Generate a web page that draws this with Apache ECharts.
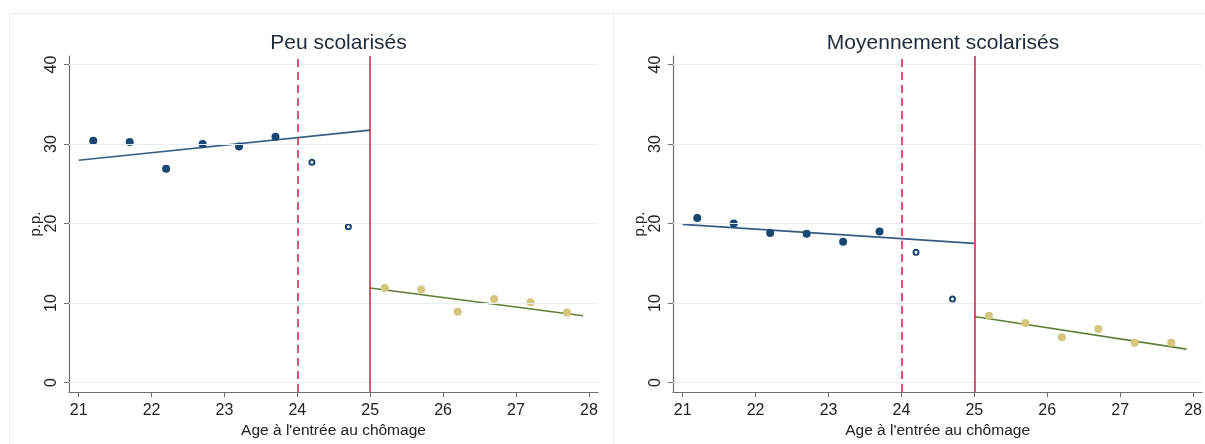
<!DOCTYPE html>
<html>
<head>
<meta charset="utf-8">
<script src="https://cdn.jsdelivr.net/npm/echarts@6/dist/echarts.min.js"></script>
<style>
html,body{margin:0;padding:0;background:#fff;}
#chart{width:1205px;height:444px;}
</style>
</head>
<body>
<div id="chart"></div>
<script>
// ---- data ----
const panelTitles = ['Peu scolarisés', 'Moyennement scolarisés'];
const xTickLabels = [21, 22, 23, 24, 25, 26, 27, 28];
const yTickLabels = [0, 10, 20, 30, 40];
const xAxisName = "Age à l'entrée au chômage";
const yAxisName = 'p.p.';

const ageBefore = [21.2, 21.7, 22.2, 22.7, 23.2, 23.7];
const ageDonut = [24.2, 24.7];
const ageAfter = [25.2, 25.7, 26.2, 26.7, 27.2, 27.7];

const peuBefore = [30.4, 30.25, 26.9, 30.0, 29.7, 30.9];
const peuDonut = [27.7, 19.6];
const peuAfter = [11.9, 11.7, 8.9, 10.5, 10.1, 8.8];
const peuFitBeforeX = [21, 25];
const peuFitBeforeY = [27.95, 31.75];
const peuFitAfterX = [25, 27.92];
const peuFitAfterY = [11.9, 8.4];

const moyBefore = [20.7, 20.0, 18.8, 18.7, 17.7, 19.0];
const moyDonut = [16.4, 10.5];
const moyAfter = [8.4, 7.5, 5.7, 6.75, 5.0, 5.0];
const moyFitBeforeX = [21, 25];
const moyFitBeforeY = [19.9, 17.5];
const moyFitAfterX = [25, 27.91];
const moyFitAfterY = [8.3, 4.2];

const cutoffDashed = 24;
const cutoffSolid = 25;

// ---- build options ----
const FONT = 'Liberation Sans, Arial, sans-serif';
const zip = (xs, ys) => xs.map((x, i) => [x, ys[i]]);

const panels = [
  {before: peuBefore, donut: peuDonut, after: peuAfter,
   fbx: peuFitBeforeX, fby: peuFitBeforeY, fax: peuFitAfterX, fay: peuFitAfterY},
  {before: moyBefore, donut: moyDonut, after: moyAfter,
   fbx: moyFitBeforeX, fby: moyFitBeforeY, fax: moyFitAfterX, fay: moyFitAfterY}
];

const grids = [
  {left: 69, top: 56, width: 529, height: 338},
  {left: 673, top: 56, width: 530, height: 338}
];

const xAxes = grids.map((g, i) => ({
  type: 'value', gridIndex: i, min: 20.867, max: 28.125,
  name: xAxisName, nameLocation: 'middle', nameGap: 24,
  nameTextStyle: {fontFamily: FONT, fontSize: 15.5, color: '#222'},
  axisLine: {onZero: false, lineStyle: {color: '#6e6e6e', width: 1.2}},
  axisTick: {show: true, length: 5, lineStyle: {color: '#6e6e6e'}, customValues: xTickLabels},
  axisLabel: {fontFamily: FONT, fontSize: 16, color: '#222', margin: 10, customValues: xTickLabels},
  splitLine: {show: false}
}));

const yAxes = grids.map((g, i) => ({
  type: 'value', gridIndex: i, min: -1.2, max: 41.07,
  name: yAxisName, nameLocation: 'middle', nameGap: 23,
  nameTextStyle: {fontFamily: FONT, fontSize: 15, color: '#222'},
  axisLine: {show: true, onZero: false, lineStyle: {color: '#6e6e6e', width: 1.2}},
  axisTick: {show: true, length: 5, lineStyle: {color: '#6e6e6e'}, customValues: yTickLabels},
  axisLabel: {fontFamily: FONT, fontSize: 16, color: '#222', rotate: 90, margin: 9,
              customValues: yTickLabels},
  splitLine: {show: false}
}));

const NAVY = '#1a476f';
const SAND = '#d4c67c';
const FITBLUE = '#355e84';
const FITGREEN = '#5e7f35';
const RED = '#d42a52';

const series = [];
panels.forEach((p, i) => {
  // gridlines
  series.push({
    type: 'line', xAxisIndex: i, yAxisIndex: i, data: [], z: 0, silent: true,
    markLine: {silent: true, symbol: 'none', label: {show: false}, animation: false,
      lineStyle: {color: '#e6eef2', width: 1.2, type: 'solid'},
      data: yTickLabels.map(v => ({yAxis: v}))}
  });
  // cutoff lines
  series.push({
    type: 'line', xAxisIndex: i, yAxisIndex: i, data: [], z: 1, silent: true,
    markLine: {silent: true, symbol: 'none', label: {show: false}, animation: false,
      data: [
        {xAxis: cutoffDashed, lineStyle: {color: RED, width: 1.6, type: [8, 5]}},
        {xAxis: cutoffSolid, lineStyle: {color: RED, width: 1.6, type: 'solid'}}
      ]}
  });
  series.push({
    type: 'line', xAxisIndex: i, yAxisIndex: i, z: 2, symbol: 'none', animation: false,
    lineStyle: {color: FITBLUE, width: 1.6}, data: zip(p.fbx, p.fby)
  });
  series.push({
    type: 'line', xAxisIndex: i, yAxisIndex: i, z: 2, symbol: 'none', animation: false,
    lineStyle: {color: FITGREEN, width: 1.6}, data: zip(p.fax, p.fay)
  });
  series.push({
    type: 'scatter', xAxisIndex: i, yAxisIndex: i, z: 3, symbol: 'circle', symbolSize: 8,
    itemStyle: {color: NAVY, opacity: 1}, animation: false, data: zip(ageBefore, p.before)
  });
  series.push({
    type: 'scatter', xAxisIndex: i, yAxisIndex: i, z: 3, symbol: 'circle', symbolSize: 5,
    itemStyle: {color: '#fff', borderColor: NAVY, borderWidth: 2, opacity: 1}, animation: false,
    data: zip(ageDonut, p.donut)
  });
  series.push({
    type: 'scatter', xAxisIndex: i, yAxisIndex: i, z: 3, symbol: 'circle', symbolSize: 8,
    itemStyle: {color: SAND, opacity: 1}, animation: false, data: zip(ageAfter, p.after)
  });
});

const option = {
  backgroundColor: '#ffffff',
  animation: false,
  title: panelTitles.map((t, i) => ({
    text: t, left: grids[i].left + grids[i].width / 2, top: 28, textAlign: 'center',
    textStyle: {fontFamily: FONT, fontSize: 21, fontWeight: 'normal', color: '#1e2a38'}
  })),
  graphic: [
    {type: 'rect', shape: {x: 9.5, y: 13.5, width: 604, height: 440}, silent: true,
     style: {fill: 'none', stroke: '#e8eeee', lineWidth: 1}},
    {type: 'rect', shape: {x: 613.5, y: 13.5, width: 600, height: 440}, silent: true,
     style: {fill: 'none', stroke: '#e8eeee', lineWidth: 1}}
  ],
  grid: grids,
  xAxis: xAxes,
  yAxis: yAxes,
  series: series
};

const chart = echarts.init(document.getElementById('chart'), null, {renderer: 'canvas'});
chart.setOption(option);
</script>
</body>
</html>
